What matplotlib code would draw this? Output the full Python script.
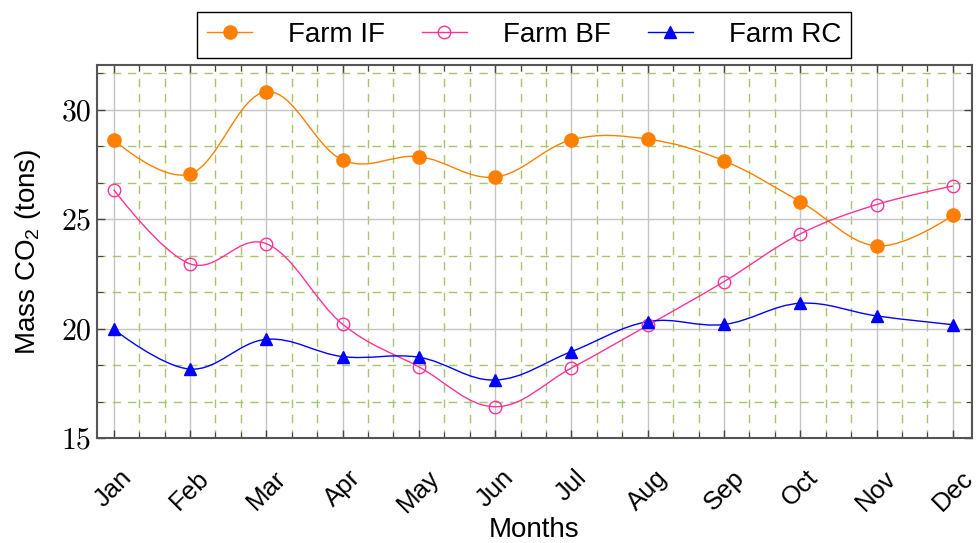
import numpy as np
import matplotlib
matplotlib.use("Agg")
import matplotlib.pyplot as plt
from matplotlib.path import Path
from matplotlib.patches import PathPatch
from matplotlib.ticker import MultipleLocator
from matplotlib.lines import Line2D

plt.rcParams['font.family'] = ['Liberation Sans', 'DejaVu Sans']
plt.rcParams['mathtext.fontset'] = 'custom'
plt.rcParams['mathtext.rm'] = 'Liberation Sans'
plt.rcParams['mathtext.it'] = 'Liberation Sans:italic'

months = ['Jan', 'Feb', 'Mar', 'Apr', 'May', 'Jun', 'Jul', 'Aug', 'Sep', 'Oct', 'Nov', 'Dec']
farm_if = [28.63, 27.07, 30.83, 27.71, 27.86, 26.93, 28.63, 28.66, 27.67, 25.80, 23.78, 25.18]
farm_bf = [26.35, 22.96, 23.88, 20.20, 18.25, 16.43, 18.20, 20.15, 22.15, 24.33, 25.67, 26.52]
farm_rc = [19.97, 18.15, 19.51, 18.72, 18.69, 17.65, 18.95, 20.32, 20.19, 21.16, 20.58, 20.18]
yticks = [15, 20, 25, 30]

series = [
    ('Farm IF', farm_if, '#ff8000', 'o', '#ff8000', 9.5),
    ('Farm BF', farm_bf, '#ff3399', 'o', 'none', 9),
    ('Farm RC', farm_rc, '#0000ff', '^', '#0000ff', 9),
]


def smooth_path(x, y, f=0.55 / 3):
    pts = np.column_stack([x, y]).astype(float)
    n = len(pts)
    verts = [pts[0]]
    codes = [Path.MOVETO]
    for i in range(n - 1):
        p0 = pts[i]
        p1 = pts[i + 1]
        if i == 0:
            c1 = p0
        else:
            c1 = p0 + f * (pts[i + 1] - pts[i - 1])
        if i + 1 == n - 1:
            c2 = p1
        else:
            c2 = p1 - f * (pts[i + 2] - pts[i])
        verts += [c1, c2, p1]
        codes += [Path.CURVE4] * 3
    return Path(verts, codes)


fig = plt.figure(figsize=(9.76, 5.43), dpi=100)
ax = fig.add_axes([97 / 976, 1 - 438 / 543, 875 / 976, 373 / 543])

x = np.arange(1, len(months) + 1)
handles = []
for name, vals, col, mk, mfc, ms in series:
    patch = PathPatch(smooth_path(x, vals), facecolor='none', edgecolor=col, lw=1.0, zorder=3)
    ax.add_patch(patch)
    ax.plot(x, vals, linestyle='none', marker=mk, color=col, markerfacecolor=mfc,
            markeredgecolor=col, markersize=ms, markeredgewidth=1.0, zorder=4)
    handles.append(Line2D([], [], color=col, lw=1.0, marker=mk, markerfacecolor=mfc,
                          markeredgecolor=col, markersize=ms, markeredgewidth=1.0))

ax.set_xlim(0.78, 12.25)
ax.set_ylim(15, 32.05)
ax.set_xticks(x)
ax.set_xticklabels(months, rotation=45, ha='center', fontsize=18.5)
ax.xaxis.set_minor_locator(MultipleLocator(1 / 3))
ax.set_yticks(yticks)
ax.set_yticklabels([str(v) for v in yticks], fontsize=21.5, fontfamily='cmr10')
ax.yaxis.set_minor_locator(MultipleLocator(5 / 3))

ax.grid(which='major', color='#c4c4c4', lw=1.0, ls='-', zorder=1)
ax.grid(which='minor', color='#a8c46c', lw=1.0, ls=(0, (6, 5)), zorder=1)
ax.set_axisbelow(True)

ax.tick_params(which='both', direction='in', top=True, right=True, color='#444444')
ax.tick_params(which='major', length=6, width=1.0)
ax.tick_params(axis='x', which='major', pad=20)
ax.tick_params(axis='y', which='major', pad=4)
ax.tick_params(which='minor', length=4, width=0.8)
for s in ax.spines.values():
    s.set_color('#555555')
    s.set_linewidth(1.5)

ax.set_xlabel('Months', fontsize=20, labelpad=0)
ax.set_ylabel('Mass CO$_2$ (tons)', fontsize=20, labelpad=13)

leg = fig.legend(handles, [s[0] for s in series], loc='center', ncol=3,
                 bbox_to_anchor=(0.537, 1 - 35 / 543), fontsize=20,
                 frameon=True, fancybox=False, edgecolor='black', framealpha=1,
                 handlelength=1.62, handletextpad=1.3, columnspacing=1.33,
                 borderpad=0.35)
leg.get_frame().set_linewidth(1.0)

fig.savefig('out.png', dpi=100)
